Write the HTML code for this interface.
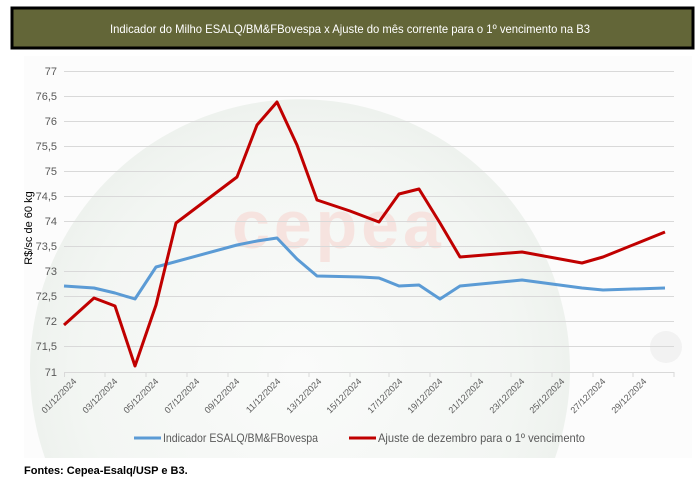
<!DOCTYPE html>
<html><head><meta charset="utf-8"><style>
html,body{margin:0;padding:0;background:#fff;width:698px;height:479px;overflow:hidden;font-family:"Liberation Sans",sans-serif}
svg{display:block}
</style></head><body>
<svg width="698" height="479" xmlns="http://www.w3.org/2000/svg" font-family="Liberation Sans, sans-serif">
<defs>
<radialGradient id="g" gradientUnits="userSpaceOnUse" cx="300" cy="370" r="270">
<stop offset="0" stop-color="#fafbfa"/><stop offset="0.8" stop-color="#f3f6f3"/><stop offset="1" stop-color="#eef2ee"/>
</radialGradient>
</defs>
<rect x="24" y="56" width="668" height="402" fill="#fcfcfc"/>
<path d="M45,458 A270,270 0 1,1 555,458 Z" fill="url(#g)"/>
<circle cx="666" cy="347" r="16" fill="#f2f2f2"/>
<text x="232" y="248" font-size="68" font-weight="bold" fill="#f6e3df" letter-spacing="4">cepea</text>
<rect x="12" y="8" width="681" height="40" fill="#636638" stroke="#000" stroke-width="3"/>
<text x="110" y="33" font-size="12" fill="#fff" textLength="480" lengthAdjust="spacingAndGlyphs">Indicador do Milho ESALQ/BM&amp;FBovespa x Ajuste do mês corrente para o 1º vencimento na B3</text>
<g stroke="#d9d9d9" stroke-width="1">
<line x1="64" x2="674" y1="71.5" y2="71.5"/><line x1="64" x2="674" y1="96.5" y2="96.5"/><line x1="64" x2="674" y1="121.5" y2="121.5"/><line x1="64" x2="674" y1="146.5" y2="146.5"/><line x1="64" x2="674" y1="171.5" y2="171.5"/><line x1="64" x2="674" y1="196.5" y2="196.5"/><line x1="64" x2="674" y1="221.5" y2="221.5"/><line x1="64" x2="674" y1="246.5" y2="246.5"/><line x1="64" x2="674" y1="271.5" y2="271.5"/><line x1="64" x2="674" y1="296.5" y2="296.5"/><line x1="64" x2="674" y1="321.5" y2="321.5"/><line x1="64" x2="674" y1="346.5" y2="346.5"/><line x1="64" x2="674" y1="372.5" y2="372.5"/>
</g>
<g stroke="#d9d9d9"><line x1="64.5" x2="64.5" y1="372" y2="377"/><line x1="105" x2="105" y1="372" y2="377"/><line x1="146" x2="146" y1="372" y2="377"/><line x1="187" x2="187" y1="372" y2="377"/><line x1="228" x2="228" y1="372" y2="377"/><line x1="268" x2="268" y1="372" y2="377"/><line x1="309" x2="309" y1="372" y2="377"/><line x1="350" x2="350" y1="372" y2="377"/><line x1="389" x2="389" y1="372" y2="377"/><line x1="430" x2="430" y1="372" y2="377"/><line x1="471" x2="471" y1="372" y2="377"/><line x1="511" x2="511" y1="372" y2="377"/><line x1="552" x2="552" y1="372" y2="377"/><line x1="593" x2="593" y1="372" y2="377"/><line x1="633" x2="633" y1="372" y2="377"/><line x1="674" x2="674" y1="372" y2="377"/></g>
<g font-size="11" fill="#595959" text-anchor="end">
<text x="57" y="75">77</text><text x="57" y="100">76,5</text><text x="57" y="125">76</text><text x="57" y="150">75,5</text><text x="57" y="175">75</text><text x="57" y="200">74,5</text><text x="57" y="225">74</text><text x="57" y="250">73,5</text><text x="57" y="275">73</text><text x="57" y="300">72,5</text><text x="57" y="325">72</text><text x="57" y="350">71,5</text><text x="57" y="376">71</text>
</g>
<text transform="translate(32,228) rotate(-90)" font-size="11" fill="#000" text-anchor="middle">R$/sc de 60 kg</text>
<g font-size="9" fill="#595959" text-anchor="end">
<text transform="translate(77,382) rotate(-45)">01/12/2024</text>
<text transform="translate(118,382) rotate(-45)">03/12/2024</text>
<text transform="translate(159,382) rotate(-45)">05/12/2024</text>
<text transform="translate(200,382) rotate(-45)">07/12/2024</text>
<text transform="translate(240,382) rotate(-45)">09/12/2024</text>
<text transform="translate(281,382) rotate(-45)">11/12/2024</text>
<text transform="translate(322,382) rotate(-45)">13/12/2024</text>
<text transform="translate(362,382) rotate(-45)">15/12/2024</text>
<text transform="translate(403,382) rotate(-45)">17/12/2024</text>
<text transform="translate(443,382) rotate(-45)">19/12/2024</text>
<text transform="translate(484,382) rotate(-45)">21/12/2024</text>
<text transform="translate(525,382) rotate(-45)">23/12/2024</text>
<text transform="translate(565,382) rotate(-45)">25/12/2024</text>
<text transform="translate(606,382) rotate(-45)">27/12/2024</text>
<text transform="translate(647,382) rotate(-45)">29/12/2024</text>
</g>
<polyline fill="none" stroke="#5b9bd5" stroke-width="3" stroke-linejoin="round" points="64,286 94,288 115,293 135,299 156,267 237,245 257,241 277,238 297,259 317,276 361,277 379,278 399,286 419,285 440,299 460,286 522,280 582,288 603,290 665,288"/>
<polyline fill="none" stroke="#c00000" stroke-width="3" stroke-linejoin="round" points="64,325 94,298 115,306 135,366 156,305 176,223 237,177 257,125 277,102 297,145 317,200 350,211 379,222 399,194 419,189 440,223 460,257 522,252 582,263 603,257 665,232"/>
<line x1="134" x2="161" y1="438" y2="438" stroke="#5b9bd5" stroke-width="3"/>
<text x="163" y="442" font-size="12" fill="#595959" textLength="155" lengthAdjust="spacingAndGlyphs">Indicador ESALQ/BM&amp;FBovespa</text>
<line x1="349" x2="376" y1="438" y2="438" stroke="#c00000" stroke-width="3"/>
<text x="378" y="442" font-size="12" fill="#595959" textLength="207" lengthAdjust="spacingAndGlyphs">Ajuste de dezembro para o 1º vencimento</text>
<text x="24" y="474" font-size="11" font-weight="bold" fill="#000">Fontes: Cepea-Esalq/USP e B3.</text>
</svg>
</body></html>
